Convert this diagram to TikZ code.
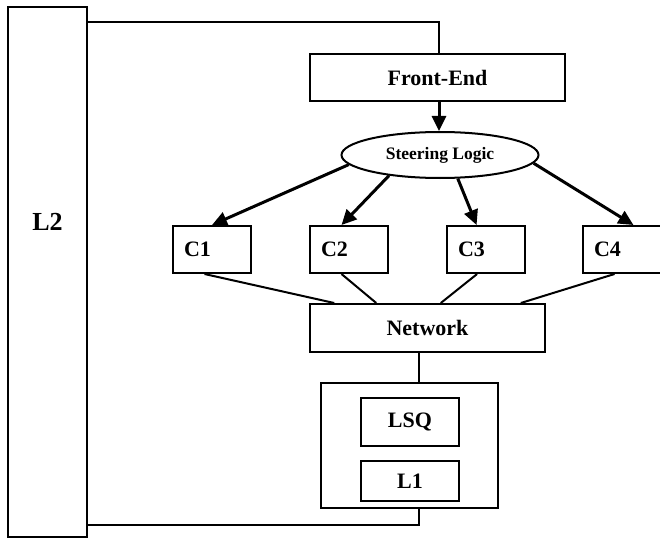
\documentclass[tikz,border=0pt]{standalone}
\usepackage{fontspec}
\setmainfont{Liberation Serif}
\usetikzlibrary{arrows.meta,positioning,shapes.geometric}

\begin{document}
\begin{tikzpicture}[x=1pt,y=-1pt,>={Triangle[length=15pt,width=14pt]},line width=2pt,
  box node/.style={rectangle,draw,inner sep=0pt,font=\fontsize{22}{26}\selectfont\bfseries},
  core node/.style={box node,minimum height=47pt,text width=56pt,inner xsep=11pt,align=left},
  logic node/.style={ellipse,draw,inner sep=0pt,minimum width=197pt,minimum height=46pt,font=\fontsize{17.5}{20}\selectfont\bfseries}]

  \useasboundingbox (0,0) rectangle (660,540);

  \node[box node,minimum width=79pt,minimum height=530pt,
        label={[name=L2 text,yshift=50pt,font=\fontsize{26}{30}\selectfont\bfseries]center:L2}] (L2) at (47.5,272) {};
  \node[box node,minimum width=255pt,minimum height=47pt] (FE) at (437.5,77.5) {Front-End};
  \node[logic node,below=29pt of FE,xshift=2.5pt] (SL) {Steering Logic};

  \node[core node] (C1) at (212,249.5) {C1};
  \node[core node,right=57pt of C1] (C2) {C2};
  \node[core node,right=57pt of C2] (C3) {C3};
  \node[core node,right=56pt of C3] (C4) {C4};

  \node[box node,minimum width=235pt,minimum height=48pt] (Net) at (427.5,328) {Network};
  \node[box node,minimum width=177pt,minimum height=125pt] (Mem) at (409.5,445.5) {};
  \node[box node,minimum width=98pt,minimum height=48pt] (LSQ) at (410,422) {LSQ};
  \node[box node,minimum width=98pt,minimum height=40pt,below=13pt of LSQ] (L1) {L1};

  \draw ([xshift=1.5pt]FE.north) |- ([yshift=-16pt]L2.north east);
  \draw[->,line width=3pt] ([xshift=1.5pt]FE.south) -- ([xshift=1.5pt]FE.south |- SL.north);
  \path[->,line width=3pt]
  (SL.186) edge (C1.north)
  (SL.202) edge (C2.107)
  (SL.307) edge (C3.111)
  (SL.355) edge (C4.65);
  \path
  (C1.253) edge (Net.165)
  (C2.253) edge (Net.154)
  (C3.250) edge (Net.62)
  (C4.253) edge (Net.15);
  \draw ([xshift=-8.5pt]Net.south) -- ([xshift=-8.5pt]Net.south |- Mem.north);
  \draw ([xshift=9.5pt]Mem.south) |- ([yshift=13pt]L2.south east);
\end{tikzpicture}
\end{document}
